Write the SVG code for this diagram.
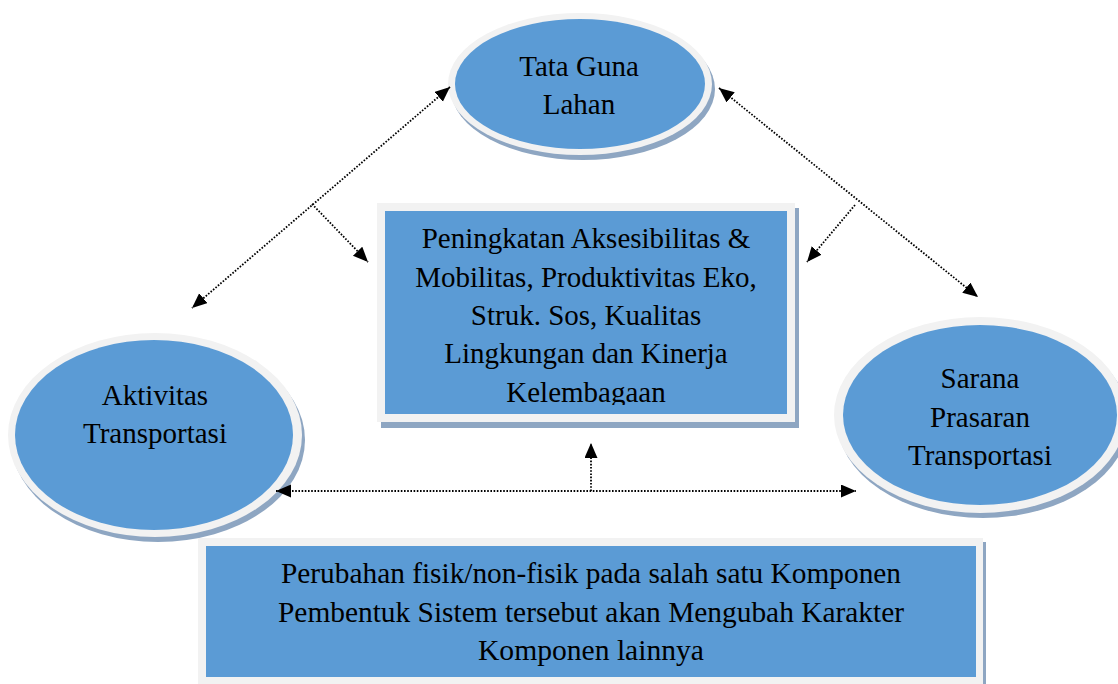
<svg xmlns="http://www.w3.org/2000/svg" width="1118" height="684" viewBox="0 0 1118 684">
<style>
.rim{fill:#F2F2F2}
.shadow{fill:#8EA6C2}
.blue{fill:#5B9BD5}
text{font-size:29px;fill:#000;text-anchor:middle}
.c{fill:none;stroke:#000;stroke-width:1.8;stroke-dasharray:1.6 1.6}
</style>
<defs>
<marker id="ah" markerUnits="userSpaceOnUse" markerWidth="16" markerHeight="14" refX="15" refY="6.5" orient="auto-start-reverse">
<path d="M0,0 L15,6.5 L0,13 z" fill="#000"/>
</marker>
<clipPath id="clipC"><rect x="385" y="211" width="402" height="194"/></clipPath>
<clipPath id="clipR"><rect x="835" y="318" width="283" height="151"/></clipPath>
</defs>
<rect width="1118" height="684" fill="#fff"/>
<g id="tata-guna-lahan" font-family="Liberation Serif, Times New Roman, serif">
<ellipse class="shadow" cx="583" cy="89" rx="132" ry="71"/>
<ellipse class="rim" cx="580" cy="84" rx="132" ry="71"/>
<ellipse class="blue" cx="580" cy="84" rx="125" ry="65"/>
<text x="579" y="76">Tata Guna</text>
<text x="579" y="114">Lahan</text>
</g>
<g id="peningkatan" font-family="Liberation Serif, Times New Roman, serif">
<rect class="shadow" x="381" y="208" width="418" height="220"/>
<rect class="rim" x="377" y="203" width="418" height="219"/>
<rect class="blue" x="385" y="211" width="402" height="203"/>
<g clip-path="url(#clipC)">
<text x="586" y="248">Peningkatan Aksesibilitas &amp;</text>
<text x="586" y="287">Mobilitas, Produktivitas Eko,</text>
<text x="586" y="325">Struk. Sos, Kualitas</text>
<text x="586" y="363">Lingkungan dan Kinerja</text>
<text x="586" y="402">Kelembagaan</text>
</g>
</g>
<g id="aktivitas-transportasi" font-family="Liberation Serif, Times New Roman, serif">
<ellipse class="shadow" cx="158" cy="440" rx="147" ry="102"/>
<ellipse class="rim" cx="155" cy="435" rx="147" ry="102"/>
<ellipse class="blue" cx="154" cy="435" rx="139" ry="95"/>
<text x="155" y="405">Aktivitas</text>
<text x="155" y="443">Transportasi</text>
</g>
<g id="sarana-prasaran-transportasi" font-family="Liberation Serif, Times New Roman, serif">
<ellipse class="shadow" cx="983" cy="420" rx="146" ry="98"/>
<ellipse class="rim" cx="980" cy="415" rx="146" ry="98"/>
<ellipse class="blue" cx="980" cy="415" rx="137" ry="90"/>
<g clip-path="url(#clipR)">
<text x="980" y="388">Sarana</text>
<text x="980" y="427">Prasaran</text>
<text x="980" y="465">Transportasi</text>
</g>
</g>
<g id="perubahan" font-family="Liberation Serif, Times New Roman, serif">
<rect class="shadow" x="202" y="542" width="784" height="142"/>
<rect class="rim" x="198" y="538" width="785" height="146"/>
<rect class="blue" x="206" y="546" width="770" height="131"/>
<text x="591" y="583" textLength="620" lengthAdjust="spacingAndGlyphs">Perubahan fisik/non-fisik pada salah satu Komponen</text>
<text x="591" y="622" textLength="626" lengthAdjust="spacingAndGlyphs">Pembentuk Sistem tersebut akan Mengubah Karakter</text>
<text x="591" y="660" textLength="226" lengthAdjust="spacingAndGlyphs">Komponen lainnya</text>
</g>
<g id="connectors">
<line class="c" x1="450" y1="87" x2="192" y2="308" marker-start="url(#ah)" marker-end="url(#ah)"/>
<line class="c" x1="312" y1="204" x2="368" y2="262" marker-end="url(#ah)"/>
<line class="c" x1="719" y1="88" x2="978" y2="297" marker-start="url(#ah)" marker-end="url(#ah)"/>
<line class="c" x1="855" y1="205" x2="807" y2="262" marker-end="url(#ah)"/>
<line class="c" x1="276" y1="491" x2="856" y2="491" marker-start="url(#ah)" marker-end="url(#ah)"/>
<line class="c" x1="591" y1="491" x2="591" y2="443" marker-end="url(#ah)"/>
</g>
</svg>
